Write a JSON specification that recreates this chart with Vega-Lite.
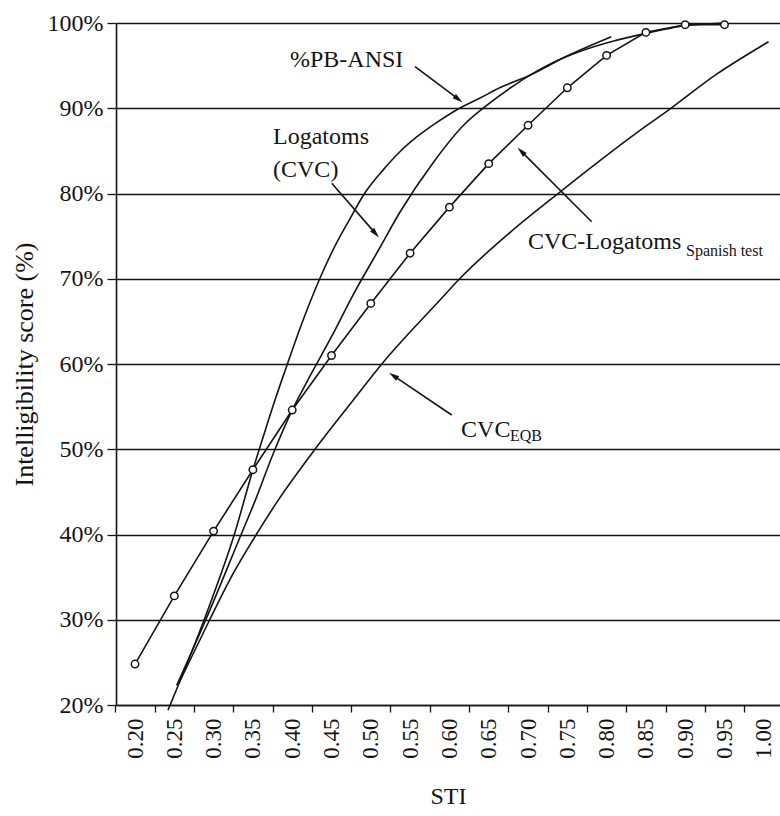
{
  "$schema": "https://vega.github.io/schema/vega-lite/v6.json",
  "width": 664,
  "height": 682,
  "autosize": {"type": "none"},
  "padding": {"left": 116, "top": 23, "right": 0, "bottom": 111},
  "background": "white",
  "config": {"view": {"stroke": null}, "font": "Liberation Serif"},
  "datasets": {
    "curves": [
      {"series": "PB-ANSI", "sti": 0.242, "score": 19.4},
      {"series": "PB-ANSI", "sti": 0.29, "score": 30.5},
      {"series": "PB-ANSI", "sti": 0.327, "score": 40.2},
      {"series": "PB-ANSI", "sti": 0.35, "score": 47.6},
      {"series": "PB-ANSI", "sti": 0.367, "score": 52.6},
      {"series": "PB-ANSI", "sti": 0.38, "score": 56.3},
      {"series": "PB-ANSI", "sti": 0.392, "score": 59.5},
      {"series": "PB-ANSI", "sti": 0.41, "score": 64.2},
      {"series": "PB-ANSI", "sti": 0.435, "score": 70.0},
      {"series": "PB-ANSI", "sti": 0.452, "score": 73.4},
      {"series": "PB-ANSI", "sti": 0.472, "score": 76.8},
      {"series": "PB-ANSI", "sti": 0.492, "score": 80},
      {"series": "PB-ANSI", "sti": 0.516, "score": 82.8},
      {"series": "PB-ANSI", "sti": 0.537, "score": 84.9},
      {"series": "PB-ANSI", "sti": 0.558, "score": 86.6},
      {"series": "PB-ANSI", "sti": 0.585, "score": 88.4},
      {"series": "PB-ANSI", "sti": 0.609, "score": 89.8},
      {"series": "PB-ANSI", "sti": 0.639, "score": 91.2},
      {"series": "PB-ANSI", "sti": 0.664, "score": 92.4},
      {"series": "PB-ANSI", "sti": 0.703, "score": 93.9},
      {"series": "PB-ANSI", "sti": 0.749, "score": 96.1},
      {"series": "PB-ANSI", "sti": 0.806, "score": 98.4},
      {"series": "Logatoms (CVC)", "sti": 0.253, "score": 22.3},
      {"series": "Logatoms (CVC)", "sti": 0.29, "score": 30},
      {"series": "Logatoms (CVC)", "sti": 0.335, "score": 40},
      {"series": "Logatoms (CVC)", "sti": 0.353, "score": 44},
      {"series": "Logatoms (CVC)", "sti": 0.375, "score": 49.3},
      {"series": "Logatoms (CVC)", "sti": 0.4, "score": 54.6},
      {"series": "Logatoms (CVC)", "sti": 0.418, "score": 57.8},
      {"series": "Logatoms (CVC)", "sti": 0.45, "score": 63.2},
      {"series": "Logatoms (CVC)", "sti": 0.478, "score": 68.2},
      {"series": "Logatoms (CVC)", "sti": 0.51, "score": 73.4},
      {"series": "Logatoms (CVC)", "sti": 0.537, "score": 77.8},
      {"series": "Logatoms (CVC)", "sti": 0.58, "score": 83.7},
      {"series": "Logatoms (CVC)", "sti": 0.618, "score": 88},
      {"series": "Logatoms (CVC)", "sti": 0.647, "score": 90.3},
      {"series": "Logatoms (CVC)", "sti": 0.681, "score": 92.6},
      {"series": "Logatoms (CVC)", "sti": 0.724, "score": 95},
      {"series": "Logatoms (CVC)", "sti": 0.77, "score": 96.8},
      {"series": "Logatoms (CVC)", "sti": 0.809, "score": 97.9},
      {"series": "Logatoms (CVC)", "sti": 0.851, "score": 98.8},
      {"series": "Logatoms (CVC)", "sti": 0.893, "score": 99.6},
      {"series": "Logatoms (CVC)", "sti": 0.95, "score": 100},
      {"series": "CVC EQB", "sti": 0.256, "score": 22.6},
      {"series": "CVC EQB", "sti": 0.295, "score": 30},
      {"series": "CVC EQB", "sti": 0.32, "score": 34.6},
      {"series": "CVC EQB", "sti": 0.357, "score": 40.4},
      {"series": "CVC EQB", "sti": 0.382, "score": 44},
      {"series": "CVC EQB", "sti": 0.429, "score": 50},
      {"series": "CVC EQB", "sti": 0.478, "score": 55.8},
      {"series": "CVC EQB", "sti": 0.514, "score": 60},
      {"series": "CVC EQB", "sti": 0.588, "score": 67.5},
      {"series": "CVC EQB", "sti": 0.613, "score": 70},
      {"series": "CVC EQB", "sti": 0.678, "score": 75.5},
      {"series": "CVC EQB", "sti": 0.741, "score": 80.2},
      {"series": "CVC EQB", "sti": 0.8425, "score": 87.4},
      {"series": "CVC EQB", "sti": 0.876, "score": 89.6},
      {"series": "CVC EQB", "sti": 0.94, "score": 94},
      {"series": "CVC EQB", "sti": 1.006, "score": 97.8}
    ],
    "spanish": [
      {"sti": 0.2, "score": 24.8},
      {"sti": 0.25, "score": 32.8},
      {"sti": 0.3, "score": 40.4},
      {"sti": 0.35, "score": 47.6},
      {"sti": 0.4, "score": 54.6},
      {"sti": 0.45, "score": 61.0},
      {"sti": 0.5, "score": 67.1},
      {"sti": 0.55, "score": 73.0},
      {"sti": 0.6, "score": 78.4},
      {"sti": 0.65, "score": 83.5},
      {"sti": 0.7, "score": 88.0},
      {"sti": 0.75, "score": 92.4},
      {"sti": 0.8, "score": 96.2},
      {"sti": 0.85, "score": 98.9},
      {"sti": 0.9, "score": 99.8},
      {"sti": 0.95, "score": 99.8}
    ],
    "labels": [
      {"kind": "main", "text": "%PB-ANSI", "sti": 0.3972, "score": 95.66},
      {"kind": "main", "text": "Logatoms", "sti": 0.3756, "score": 86.63},
      {"kind": "main", "text": "(CVC)", "sti": 0.3756, "score": 82.76},
      {"kind": "main", "text": "CVC-Logatoms", "sti": 0.7, "score": 74.35},
      {"kind": "sub", "text": "Spanish test", "sti": 0.901, "score": 73.3},
      {"kind": "main", "text": "CVC", "sti": 0.6148, "score": 52.26},
      {"kind": "sub", "text": "EQB", "sti": 0.677, "score": 51.6}
    ],
    "arrows": [
      {"arrow": "a1", "sti": 0.5562, "score": 94.87, "sti2": 0.6106, "score2": 91.12},
      {"arrow": "a2", "sti": 0.4503, "score": 81.2, "sti2": 0.5053, "score2": 75.38},
      {"arrow": "a3", "sti": 0.781, "score": 76.69, "sti2": 0.6921, "score2": 84.89},
      {"arrow": "a4", "sti": 0.6029, "score": 54.02, "sti2": 0.5296, "score2": 58.58}
    ]
  },
  "layer": [
    {
      "data": {"name": "curves"},
      "mark": {"type": "line", "interpolate": "monotone", "color": "#141414", "strokeWidth": 1.6},
      "encoding": {
        "x": {
          "field": "sti", "type": "quantitative",
          "scale": {"domain": [0.1758, 1.0206], "nice": false, "zero": false},
          "axis": {
            "title": "STI",
            "values": [0.2, 0.25, 0.3, 0.35, 0.4, 0.45, 0.5, 0.55, 0.6, 0.65, 0.7, 0.75, 0.8, 0.85, 0.9, 0.95, 1.0],
            "format": ".2f",
            "labelAngle": -90,
            "tickOffset": -19.65,
            "labelOffset": 19.65,
            "tickSize": 7,
            "tickWidth": 1.3,
            "tickColor": "#141414",
            "domainColor": "#141414",
            "domainWidth": 1.6,
            "grid": false,
            "labelFont": "Liberation Serif",
            "labelFontSize": 23,
            "labelColor": "#141414",
            "labelPadding": 6,
            "labelFlush": false,
            "labelOverlap": false,
            "titleFont": "Liberation Serif",
            "titleFontSize": 24,
            "titleFontWeight": "normal",
            "titleColor": "#141414",
            "titlePadding": 26
          }
        },
        "y": {
          "field": "score", "type": "quantitative",
          "scale": {"domain": [20, 100], "nice": false, "zero": false},
          "axis": {
            "title": "Intelligibility score (%)",
            "values": [20, 30, 40, 50, 60, 70, 80, 90, 100],
            "labelExpr": "datum.value + '%'",
            "grid": true,
            "gridColor": "#141414",
            "gridWidth": 1.6,
            "gridOpacity": 1,
            "tickSize": 9,
            "tickWidth": 1.3,
            "tickColor": "#141414",
            "domainColor": "#141414",
            "domainWidth": 1.6,
            "labelFont": "Liberation Serif",
            "labelFontSize": 24,
            "labelColor": "#141414",
            "labelPadding": 4,
            "labelFlush": false,
            "titleFont": "Liberation Serif",
            "titleFontSize": 26,
            "titleFontWeight": "normal",
            "titleColor": "#141414",
            "titlePadding": 10
          }
        },
        "detail": {"field": "series", "type": "nominal"}
      }
    },
    {
      "data": {"name": "spanish"},
      "mark": {"type": "line", "color": "#141414", "strokeWidth": 1.6},
      "encoding": {
        "x": {"field": "sti", "type": "quantitative"},
        "y": {"field": "score", "type": "quantitative"}
      }
    },
    {
      "data": {"name": "spanish"},
      "mark": {"type": "point", "shape": "circle", "filled": false, "fill": "white", "fillOpacity": 1, "stroke": "#141414", "strokeWidth": 1.5, "size": 55, "opacity": 1},
      "encoding": {
        "x": {"field": "sti", "type": "quantitative"},
        "y": {"field": "score", "type": "quantitative"}
      }
    },
    {
      "data": {"name": "arrows"},
      "mark": {"type": "rule", "color": "#141414", "strokeWidth": 1.6},
      "encoding": {
        "x": {"field": "sti", "type": "quantitative"},
        "y": {"field": "score", "type": "quantitative"},
        "x2": {"field": "sti2"},
        "y2": {"field": "score2"}
      }
    },
    {
      "data": {"name": "arrows"},
      "transform": [{"filter": "datum.arrow == 'a1'"}],
      "mark": {"type": "point", "shape": "M0,-1L0.45,0.7L-0.45,0.7Z", "filled": true, "color": "#141414", "size": 150, "angle": 127, "opacity": 1},
      "encoding": {
        "x": {"field": "sti2", "type": "quantitative"},
        "y": {"field": "score2", "type": "quantitative"}
      }
    },
    {
      "data": {"name": "arrows"},
      "transform": [{"filter": "datum.arrow == 'a2'"}],
      "mark": {"type": "point", "shape": "M0,-1L0.45,0.7L-0.45,0.7Z", "filled": true, "color": "#141414", "size": 150, "angle": 139, "opacity": 1},
      "encoding": {
        "x": {"field": "sti2", "type": "quantitative"},
        "y": {"field": "score2", "type": "quantitative"}
      }
    },
    {
      "data": {"name": "arrows"},
      "transform": [{"filter": "datum.arrow == 'a3'"}],
      "mark": {"type": "point", "shape": "M0,-1L0.45,0.7L-0.45,0.7Z", "filled": true, "color": "#141414", "size": 150, "angle": 315, "opacity": 1},
      "encoding": {
        "x": {"field": "sti2", "type": "quantitative"},
        "y": {"field": "score2", "type": "quantitative"}
      }
    },
    {
      "data": {"name": "arrows"},
      "transform": [{"filter": "datum.arrow == 'a4'"}],
      "mark": {"type": "point", "shape": "M0,-1L0.45,0.7L-0.45,0.7Z", "filled": true, "color": "#141414", "size": 150, "angle": 304, "opacity": 1},
      "encoding": {
        "x": {"field": "sti2", "type": "quantitative"},
        "y": {"field": "score2", "type": "quantitative"}
      }
    },
    {
      "data": {"name": "labels"},
      "transform": [{"filter": "datum.kind == 'main'"}],
      "mark": {"type": "text", "align": "left", "baseline": "middle", "font": "Liberation Serif", "fontSize": 24, "color": "#141414"},
      "encoding": {
        "x": {"field": "sti", "type": "quantitative"},
        "y": {"field": "score", "type": "quantitative"},
        "text": {"field": "text"}
      }
    },
    {
      "data": {"name": "labels"},
      "transform": [{"filter": "datum.kind == 'sub'"}],
      "mark": {"type": "text", "align": "left", "baseline": "middle", "font": "Liberation Serif", "fontSize": 16, "color": "#141414"},
      "encoding": {
        "x": {"field": "sti", "type": "quantitative"},
        "y": {"field": "score", "type": "quantitative"},
        "text": {"field": "text"}
      }
    }
  ]
}
